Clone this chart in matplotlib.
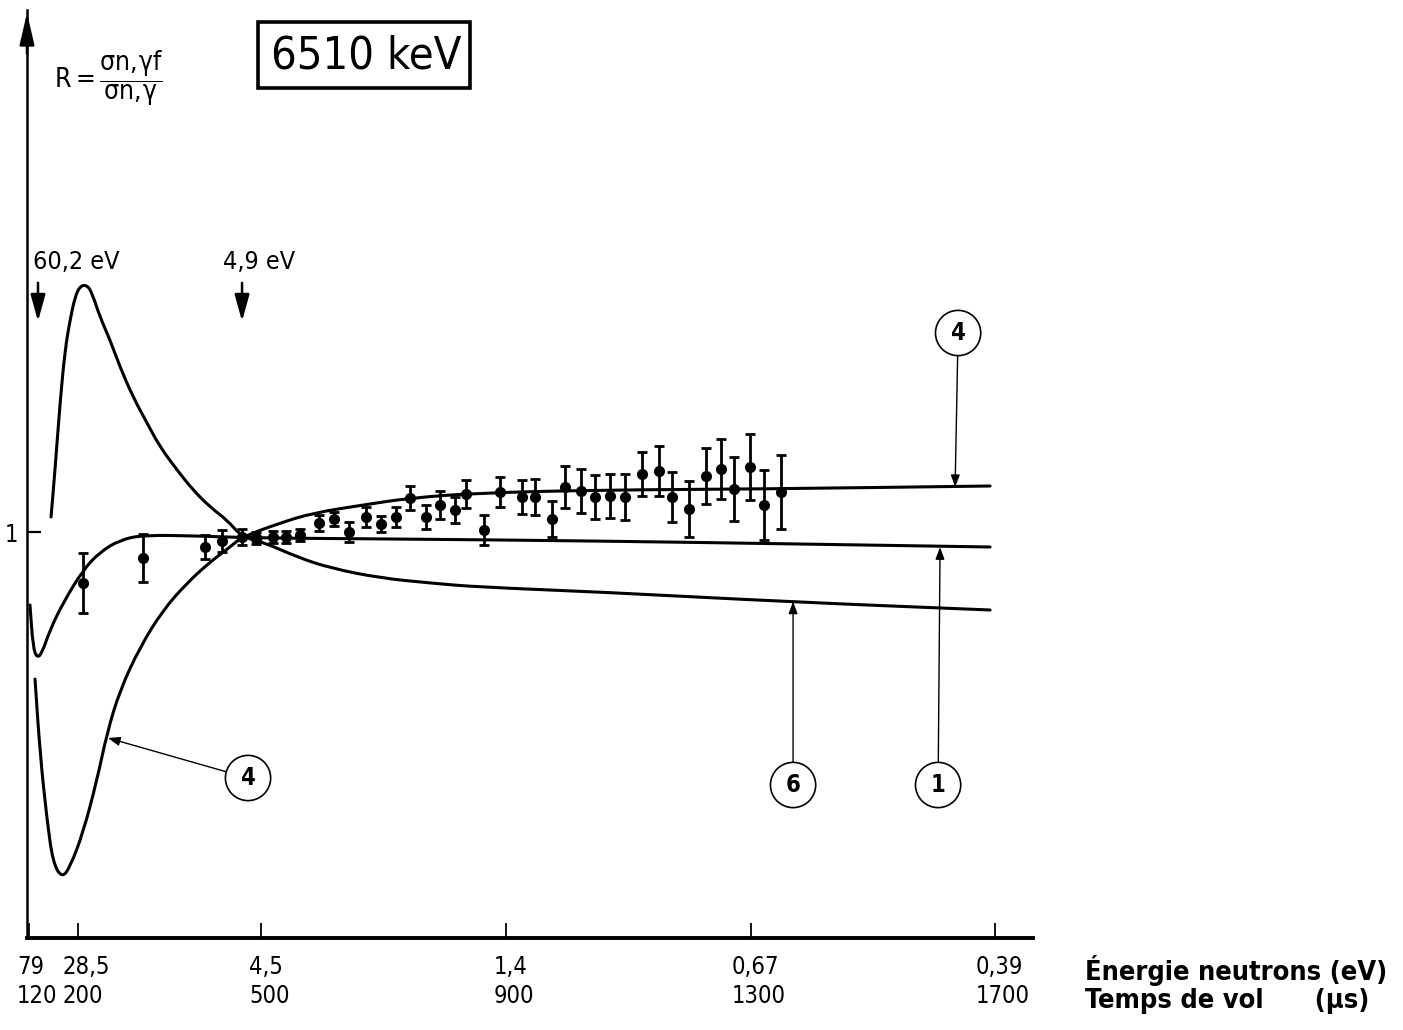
import matplotlib.pyplot as plt
from matplotlib.patches import Rectangle, PathPatch
from matplotlib.path import Path
from matplotlib.transforms import ScaledTranslation

plt.rcParams['font.family'] = ['DejaVu Sans']
plt.rcParams['font.stretch'] = 'condensed'

# axe des abscisses : temps de vol (us) et energie correspondante (eV)
temps_ticks = [120, 200, 500, 900, 1300, 1700]
energie_ticks = ['79', '28,5', '4,5', '1,4', '0,67', '0,39']

# courbe 1
t_c1 = [121.6, 126.5, 133.1, 141.3, 154.3, 175.6, 208.3, 236.1, 268.8, 306.5,
        399.7, 489.6, 726.8, 1053.9, 1381.1, 1691.8]
r_c1 = [0.8175, 0.7125, 0.685, 0.6975, 0.755, 0.8225, 0.905, 0.95, 0.98, 0.9925,
        0.99, 0.985, 0.9825, 0.9775, 0.97, 0.9625]

# courbe 6 (pic a 60,2 eV puis decroissance)
t_c6 = [156.0, 162.5, 170.7, 178.9, 187.1, 195.2, 203.4, 214.9, 223.0, 236.1,
        252.5, 268.8, 290.1, 313.0, 334.3, 362.1, 388.2, 416.0, 443.8, 468.4,
        502.7, 558.3, 612.3, 694.1, 775.9, 852.7, 1053.9, 1369.6, 1691.8]
r_c6 = [1.0375, 1.155, 1.3225, 1.455, 1.53, 1.5875, 1.615, 1.6175, 1.5975, 1.5375,
        1.48, 1.4125, 1.3375, 1.2725, 1.2125, 1.155, 1.105, 1.0625, 1.03, 0.9875,
        0.975, 0.9375, 0.91, 0.885, 0.8725, 0.8625, 0.85, 0.825, 0.805]

# courbe 4 (creux puis montee)
t_c4 = [129.8, 138.0, 149.4, 159.3, 174.0, 187.1, 208.3, 231.2, 247.6, 268.8,
        301.6, 339.2, 378.4, 416.0, 448.8, 468.4, 530.5, 584.5, 666.3, 743.2,
        852.7, 1053.9, 1315.6, 1691.8]
r_c4 = [0.6325, 0.4475, 0.28, 0.1725, 0.135, 0.1625, 0.2475, 0.38, 0.4975, 0.605,
        0.7125, 0.805, 0.8725, 0.925, 0.9625, 0.9875, 1.0225, 1.0475, 1.0675, 1.085,
        1.0975, 1.105, 1.1075, 1.115]

# points experimentaux
t_pts = [208, 306, 408, 436, 468, 491, 519, 540, 563, 594, 619, 643, 671, 696,
         720, 743, 769, 792, 817, 835, 864, 890, 926, 948, 975, 997, 1023, 1046,
         1070, 1095, 1123, 1150, 1172, 1200, 1227, 1252, 1273, 1299, 1322, 1350]
r_pts = [0.8725, 0.935, 0.9625, 0.9775, 0.9875, 0.985, 0.9875, 0.9875, 0.9925,
         1.0225, 1.0325, 1.0, 1.0375, 1.02, 1.0375, 1.085, 1.0375, 1.0675, 1.055,
         1.095, 1.005, 1.1, 1.0875, 1.0875, 1.0325, 1.1125, 1.1025, 1.0875, 1.09,
         1.0875, 1.145, 1.1525, 1.0875, 1.0575, 1.14, 1.1575, 1.1075, 1.1625,
         1.0675, 1.1]
err_pts = [0.075, 0.06, 0.031, 0.028, 0.02, 0.015, 0.015, 0.015, 0.016, 0.02,
           0.018, 0.024, 0.024, 0.02, 0.025, 0.031, 0.031, 0.036, 0.033, 0.036,
           0.0375, 0.0375, 0.042, 0.045, 0.044, 0.052, 0.054, 0.054, 0.055, 0.057,
           0.056, 0.062, 0.062, 0.069, 0.069, 0.074, 0.079, 0.083, 0.0875, 0.0925]
ouvert = 5  # point marque par un cercle vide


def courbe_lisse(ax, xs, ys, lw):
    # trace a main levee : segments quadratiques passant par les milieux
    pts = list(zip(xs, ys))
    verts = [pts[0]]
    codes = [Path.MOVETO]
    for i in range(1, len(pts) - 1):
        mid_prev = ((pts[i - 1][0] + pts[i][0]) / 2, (pts[i - 1][1] + pts[i][1]) / 2)
        mid_next = ((pts[i][0] + pts[i + 1][0]) / 2, (pts[i][1] + pts[i + 1][1]) / 2)
        if i == 1:
            verts.append(mid_prev)
            codes.append(Path.LINETO)
        verts += [pts[i], mid_next]
        codes += [Path.CURVE3, Path.CURVE3]
    verts.append(pts[-1])
    codes.append(Path.LINETO)
    ax.add_patch(PathPatch(Path(verts, codes), fill=False, lw=lw, ec='k',
                           capstyle='round', joinstyle='round'))


fig = plt.figure(figsize=(14.03, 10.30), dpi=100)
ax = fig.add_axes([27 / 1403, 92 / 1030, 1006 / 1403, 928 / 1030])
ax.set_xlim(116.7, 1762)
ax.set_ylim(-0.015, 2.305)

courbe_lisse(ax, t_c1, r_c1, 2.2)
courbe_lisse(ax, t_c6, r_c6, 2.2)
courbe_lisse(ax, t_c4, r_c4, 2.2)

ax.errorbar(t_pts, r_pts, yerr=err_pts, fmt='o', color='k', ms=7, lw=2,
            capsize=3.5, capthick=2)
ax.plot(t_pts[ouvert], r_pts[ouvert], 'o', ms=7, mfc='white', mec='k', mew=1.5)

# axes
for s in ['top', 'right']:
    ax.spines[s].set_visible(False)
ax.spines['left'].set_linewidth(1.8)
ax.spines['bottom'].set_linewidth(2.8)
ax.annotate('', xy=(0, 1.0), xycoords='axes fraction', xytext=(0, 0.95),
            arrowprops=dict(arrowstyle='-|>,head_length=1.3,head_width=0.3',
                            mutation_scale=15, lw=1.8, color='k'),
            annotation_clip=False)

ax.set_xticks(temps_ticks)
ax.set_xticklabels([e + '\n' + str(t) for e, t in zip(energie_ticks, temps_ticks)],
                   fontsize=17, linespacing=1.3, multialignment='left')
ax.tick_params(axis='x', direction='in', length=11, width=1.3, pad=12)
decal = ScaledTranslation(8 / 100, 0, fig.dpi_scale_trans)
for lab in ax.get_xticklabels():
    lab.set_transform(lab.get_transform() + decal)

ax.set_yticks([1])
ax.set_yticklabels(['1'], fontsize=17)
ax.tick_params(axis='y', direction='in', length=10, width=1.6, pad=6)

fig.text(1085 / 1403, 1 - 971 / 1030, 'Énergie neutrons (eV)', fontsize=19.5,
         fontweight='bold', va='center', ha='left')
fig.text(1085 / 1403, 1 - 1001 / 1030, 'Temps de vol      (µs)', fontsize=19.5,
         fontweight='bold', va='center', ha='left')

# titre encadre
fig.patches.append(Rectangle((258 / 1403, 1 - 88 / 1030), 212 / 1403, 66 / 1030,
                             transform=fig.transFigure, fill=False, lw=2.6,
                             ec='k'))
fig.text(366 / 1403, 1 - 56 / 1030, '6510 keV', fontsize=32.5, ha='center',
         va='center')
fig.text(54 / 1403, 1 - 78 / 1030,
         r'$\mathrm{R = \dfrac{\sigma n,\!\gamma f}{\sigma n,\!\gamma}}$',
         fontsize=19, ha='left', va='center')

# resonances
fl = dict(arrowstyle='-|>,head_length=0.9,head_width=0.25', mutation_scale=18,
          lw=1.8, color='k')
ax.annotate('', xy=(134.7, 1.52), xytext=(134.7, 1.63), arrowprops=fl)
ax.annotate('', xy=(468.4, 1.52), xytext=(468.4, 1.63), arrowprops=fl)
ax.text(127, 1.675, '60,2 eV', fontsize=18, ha='left', va='center')
ax.text(496, 1.675, '4,9 eV', fontsize=18, ha='center', va='center')

# reperes des courbes
fc = dict(arrowstyle='-|>,head_length=0.4,head_width=0.15', mutation_scale=18,
          lw=1.0, color='k', shrinkA=0, shrinkB=0)
cercle = dict(boxstyle='circle,pad=0.45', fc='white', ec='k', lw=1.2)
reperes = [('4', (1639.5, 1.4975), (1634.6, 1.1125)),
           ('1', (1606.8, 0.3675), (1610.0, 0.962)),
           ('6', (1369.6, 0.3675), (1369.6, 0.826)),
           ('4', (478.2, 0.385), (249.2, 0.485))]
for txt, pos_txt, pos_pt in reperes:
    ax.annotate('', xy=pos_pt, xytext=pos_txt, arrowprops=fc)
    ax.text(pos_txt[0], pos_txt[1], txt, fontsize=17, fontweight='bold',
            ha='center', va='center', bbox=cercle)

fig.savefig('out.png', dpi=100)
